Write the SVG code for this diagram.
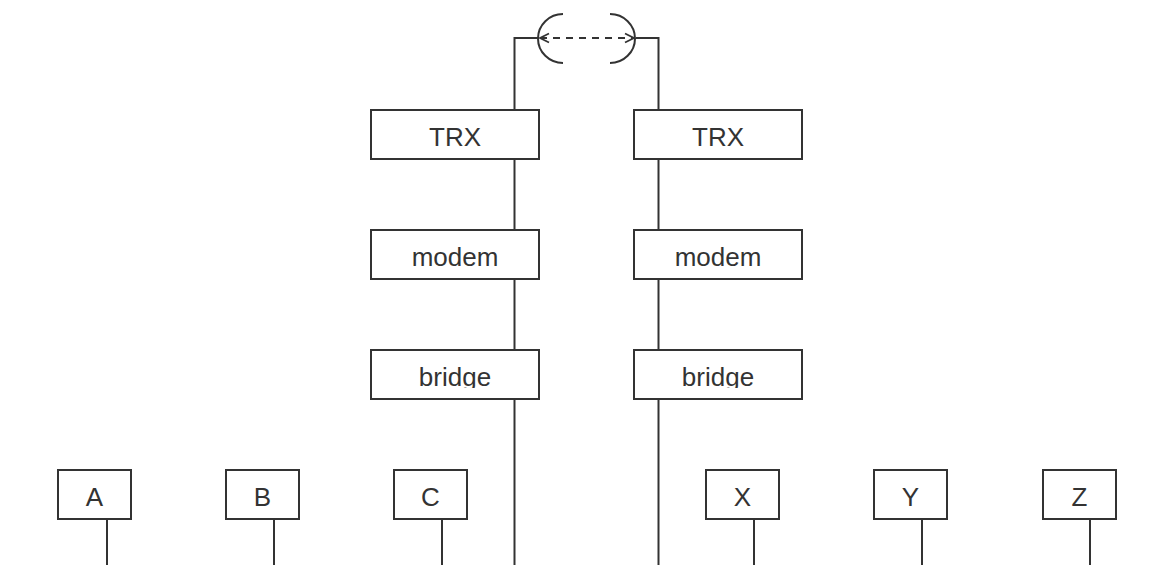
<svg xmlns="http://www.w3.org/2000/svg" width="1151" height="565" viewBox="0 0 1151 565">
  <style>
    .box{fill:#fff;stroke:#333;stroke-width:2}
    .ln{fill:none;stroke:#333;stroke-width:2}
    .lbl{font-family:"Liberation Sans",Arial,sans-serif;font-size:26px;fill:#333;text-anchor:middle}
  </style>
  <defs>
    <marker id="chev" viewBox="0 0 12 12" refX="11" refY="6" markerWidth="12" markerHeight="12" markerUnits="userSpaceOnUse" orient="auto-start-reverse">
      <path d="M2,1.5 L11,6 L2,10.5" fill="none" stroke="#333" stroke-width="1.8"/>
    </marker>
    <clipPath id="clipL"><rect x="371" y="350" width="168" height="38"/></clipPath>
    <clipPath id="clipR"><rect x="634" y="350" width="168" height="38"/></clipPath>
  </defs>
  <rect width="1151" height="565" fill="#fff"/>
  <g id="connectors">
    <path class="ln" d="M514.5,110 V38 H538"/>
    <path class="ln" d="M658.5,110 V38 H636"/>
    <path class="ln" d="M563,14 A25,24.5 0 0 0 563,63"/>
    <path class="ln" d="M610,14 A25,24.5 0 0 1 610,63"/>
    <line x1="540" y1="38" x2="634" y2="38" stroke="#333" stroke-width="1.8" stroke-dasharray="7,6" marker-start="url(#chev)" marker-end="url(#chev)"/>
    <line class="ln" x1="514.5" y1="159" x2="514.5" y2="230"/>
    <line class="ln" x1="514.5" y1="279" x2="514.5" y2="350"/>
    <line class="ln" x1="514.5" y1="399" x2="514.5" y2="565"/>
    <line class="ln" x1="658.5" y1="159" x2="658.5" y2="230"/>
    <line class="ln" x1="658.5" y1="279" x2="658.5" y2="350"/>
    <line class="ln" x1="658.5" y1="399" x2="658.5" y2="565"/>
    <line class="ln" x1="107" y1="519" x2="107" y2="565"/>
    <line class="ln" x1="274" y1="519" x2="274" y2="565"/>
    <line class="ln" x1="442" y1="519" x2="442" y2="565"/>
    <line class="ln" x1="754" y1="519" x2="754" y2="565"/>
    <line class="ln" x1="922" y1="519" x2="922" y2="565"/>
    <line class="ln" x1="1090" y1="519" x2="1090" y2="565"/>
  </g>
  <g id="trx-left"><rect class="box" x="371" y="110" width="168" height="49"/><text class="lbl" x="455" y="146">TRX</text></g>
  <g id="trx-right"><rect class="box" x="634" y="110" width="168" height="49"/><text class="lbl" x="718" y="146">TRX</text></g>
  <g id="modem-left"><rect class="box" x="371" y="230" width="168" height="49"/><text class="lbl" x="455" y="266">modem</text></g>
  <g id="modem-right"><rect class="box" x="634" y="230" width="168" height="49"/><text class="lbl" x="718" y="266">modem</text></g>
  <g id="bridge-left"><rect class="box" x="371" y="350" width="168" height="49"/><text class="lbl" x="455" y="386" clip-path="url(#clipL)">bridge</text></g>
  <g id="bridge-right"><rect class="box" x="634" y="350" width="168" height="49"/><text class="lbl" x="718" y="386" clip-path="url(#clipR)">bridge</text></g>
  <g id="node-A"><rect class="box" x="58" y="470" width="73" height="49"/><text class="lbl" x="94.5" y="506">A</text></g>
  <g id="node-B"><rect class="box" x="226" y="470" width="73" height="49"/><text class="lbl" x="262.5" y="506">B</text></g>
  <g id="node-C"><rect class="box" x="394" y="470" width="73" height="49"/><text class="lbl" x="430.5" y="506">C</text></g>
  <g id="node-X"><rect class="box" x="706" y="470" width="73" height="49"/><text class="lbl" x="742.5" y="506">X</text></g>
  <g id="node-Y"><rect class="box" x="874" y="470" width="73" height="49"/><text class="lbl" x="910.5" y="506">Y</text></g>
  <g id="node-Z"><rect class="box" x="1043" y="470" width="73" height="49"/><text class="lbl" x="1079.5" y="506">Z</text></g>
</svg>
